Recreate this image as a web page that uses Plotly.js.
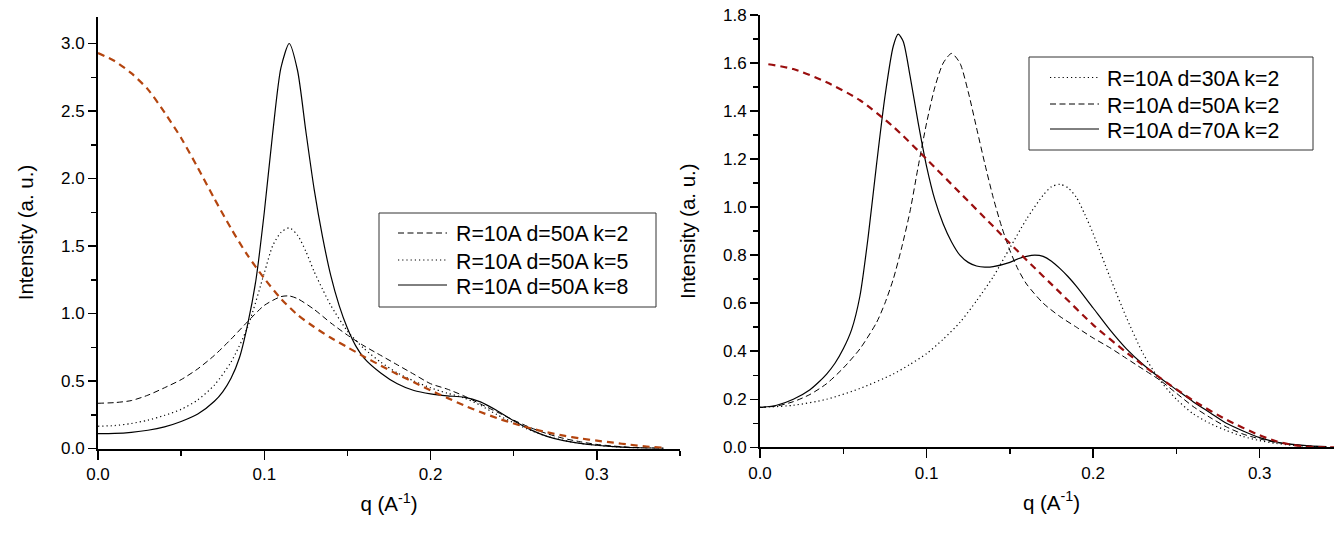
<!DOCTYPE html>
<html>
<head>
<meta charset="utf-8">
<script src="https://cdn.plot.ly/plotly-3.0.1.min.js"></script>
<style>
html, body { margin: 0; padding: 0; overflow: hidden; background: #fff; }
#chart { width: 1343px; height: 533px; }
</style>
</head>
<body>
<div id="chart"></div>
<script>
// ---------- Left panel: R=10A d=50A, varying k ----------
const qL_k2 = [0,0.01,0.02,0.03,0.04,0.05,0.06,0.07,0.08,0.09,0.10,0.11,0.115,0.12,0.13,0.14,0.15,0.16,0.17,0.18,0.19,0.20,0.21,0.22,0.23,0.24,0.25,0.26,0.27,0.28,0.29,0.30,0.31,0.32,0.33,0.34];
const IL_k2 = [0.335,0.34,0.355,0.395,0.45,0.51,0.59,0.69,0.81,0.94,1.06,1.125,1.13,1.11,1.03,0.93,0.84,0.76,0.69,0.62,0.55,0.48,0.44,0.39,0.33,0.27,0.21,0.155,0.11,0.075,0.05,0.03,0.018,0.009,0.004,0.001];

const qL_k5 = [0,0.01,0.02,0.03,0.04,0.05,0.06,0.07,0.08,0.09,0.10,0.105,0.11,0.115,0.12,0.125,0.13,0.135,0.14,0.15,0.16,0.17,0.18,0.19,0.20,0.21,0.22,0.23,0.24,0.25,0.26,0.27,0.28,0.29,0.30,0.31,0.32,0.33,0.34];
const IL_k5 = [0.165,0.17,0.185,0.21,0.245,0.29,0.36,0.47,0.64,0.90,1.30,1.50,1.60,1.635,1.58,1.46,1.31,1.18,1.06,0.87,0.74,0.64,0.56,0.50,0.45,0.41,0.375,0.32,0.25,0.19,0.135,0.09,0.06,0.038,0.024,0.014,0.007,0.003,0.001];

const qL_k8 = [0,0.01,0.02,0.03,0.04,0.05,0.06,0.07,0.075,0.08,0.085,0.09,0.095,0.10,0.105,0.11,0.115,0.12,0.125,0.13,0.135,0.14,0.145,0.15,0.155,0.16,0.17,0.18,0.19,0.20,0.21,0.22,0.23,0.24,0.25,0.26,0.27,0.28,0.29,0.30,0.31,0.32,0.33,0.34];
const IL_k8 = [0.11,0.112,0.12,0.135,0.16,0.20,0.255,0.35,0.42,0.52,0.67,0.92,1.25,1.75,2.33,2.82,3.00,2.80,2.35,1.92,1.57,1.28,1.06,0.89,0.76,0.67,0.56,0.48,0.43,0.405,0.39,0.38,0.345,0.28,0.205,0.14,0.09,0.058,0.038,0.024,0.014,0.007,0.003,0.001];

const qL_ff = [0,0.01,0.02,0.03,0.04,0.05,0.06,0.07,0.08,0.09,0.10,0.11,0.12,0.13,0.14,0.15,0.16,0.17,0.18,0.19,0.20,0.21,0.22,0.23,0.24,0.25,0.26,0.27,0.28,0.29,0.30,0.31,0.32,0.33,0.34];
const IL_ff = [2.93,2.87,2.78,2.66,2.49,2.30,2.08,1.85,1.63,1.43,1.26,1.11,0.99,0.90,0.82,0.75,0.68,0.615,0.55,0.49,0.43,0.375,0.32,0.27,0.225,0.185,0.15,0.12,0.095,0.075,0.058,0.043,0.028,0.015,0.005];

// ---------- Right panel: R=10A k=2, varying d ----------
const qR_d30 = [0,0.02,0.04,0.06,0.08,0.09,0.10,0.11,0.12,0.13,0.14,0.15,0.16,0.17,0.175,0.18,0.185,0.19,0.195,0.20,0.21,0.22,0.23,0.24,0.25,0.26,0.27,0.28,0.29,0.30,0.31,0.32,0.33,0.34];
const IR_d30 = [0.166,0.175,0.20,0.245,0.305,0.345,0.39,0.45,0.52,0.61,0.71,0.83,0.95,1.05,1.085,1.095,1.08,1.04,0.97,0.89,0.71,0.54,0.39,0.28,0.20,0.14,0.10,0.07,0.045,0.028,0.016,0.008,0.004,0.002];

const qR_d50 = [0,0.01,0.02,0.03,0.04,0.05,0.06,0.07,0.075,0.08,0.085,0.09,0.095,0.10,0.105,0.11,0.115,0.12,0.125,0.13,0.135,0.14,0.145,0.15,0.155,0.16,0.17,0.18,0.19,0.20,0.21,0.22,0.23,0.24,0.25,0.26,0.27,0.28,0.29,0.30,0.31,0.32,0.33,0.34];
const IR_d50 = [0.166,0.172,0.19,0.22,0.265,0.33,0.41,0.52,0.60,0.70,0.83,0.98,1.17,1.35,1.50,1.60,1.64,1.60,1.48,1.33,1.18,1.04,0.92,0.82,0.74,0.68,0.60,0.545,0.50,0.455,0.415,0.37,0.325,0.28,0.225,0.17,0.125,0.085,0.055,0.035,0.02,0.011,0.005,0.002];

const qR_d70 = [0,0.01,0.02,0.03,0.035,0.04,0.045,0.05,0.055,0.06,0.065,0.07,0.075,0.08,0.083,0.086,0.09,0.095,0.10,0.105,0.11,0.115,0.12,0.125,0.13,0.135,0.14,0.15,0.155,0.16,0.165,0.17,0.175,0.18,0.185,0.19,0.20,0.21,0.22,0.23,0.24,0.25,0.26,0.27,0.28,0.29,0.30,0.31,0.32,0.33,0.34];
const IR_d70 = [0.166,0.175,0.20,0.24,0.27,0.305,0.35,0.41,0.49,0.63,0.88,1.18,1.46,1.67,1.72,1.69,1.55,1.35,1.17,1.03,0.93,0.855,0.80,0.77,0.755,0.75,0.752,0.77,0.785,0.795,0.80,0.795,0.775,0.745,0.71,0.67,0.58,0.49,0.41,0.345,0.29,0.24,0.19,0.145,0.10,0.068,0.04,0.022,0.012,0.006,0.003];

const qR_ff = [0.005,0.02,0.04,0.06,0.08,0.10,0.12,0.14,0.16,0.18,0.20,0.22,0.24,0.26,0.28,0.30,0.31,0.32,0.33,0.34,0.345];
const IR_ff = [1.595,1.575,1.52,1.445,1.335,1.20,1.06,0.92,0.78,0.645,0.51,0.395,0.29,0.195,0.115,0.05,0.025,0.01,0.002,0.0,0.0];

const namesL = ['R=10A d=50A k=2', 'R=10A d=50A k=5', 'R=10A d=50A k=8'];
const namesR = ['R=10A d=30A k=2', 'R=10A d=50A k=2', 'R=10A d=70A k=2'];

const FONT = 'Liberation Sans, Arial, sans-serif';
const DASH = '6px,3.5px';
const DOT = '1.2px,3px';
const BROWN_DASH = '7px,5px';
const STYLE_L = [DASH, DOT, 'solid'];
const STYLE_R = [DOT, DASH, 'solid'];

function line(x, y, xa, ya, name, dash, color, width) {
  return {
    type: 'scatter', mode: 'lines', x: x, y: y, xaxis: xa, yaxis: ya,
    name: name, showlegend: false,
    line: { color: color, width: width, dash: dash, shape: 'spline', smoothing: 0.7 },
    hoverinfo: 'skip'
  };
}

const traces = [
  line(qL_k2, IL_k2, 'x', 'y', namesL[0], STYLE_L[0], '#000', 1),
  line(qL_k5, IL_k5, 'x', 'y', namesL[1], STYLE_L[1], '#000', 1.2),
  line(qL_k8, IL_k8, 'x', 'y', namesL[2], STYLE_L[2], '#000', 1.2),
  line(qL_ff, IL_ff, 'x', 'y', 'form factor', BROWN_DASH, '#B4450F', 2.2),
  line(qR_d30, IR_d30, 'x2', 'y2', namesR[0], STYLE_R[0], '#000', 1.2),
  line(qR_d50, IR_d50, 'x2', 'y2', namesR[1], STYLE_R[1], '#000', 1),
  line(qR_d70, IR_d70, 'x2', 'y2', namesR[2], STYLE_R[2], '#000', 1.2),
  line(qR_ff, IR_ff, 'x2', 'y2', 'form factor', BROWN_DASH, '#9A0E0E', 2.2)
];

const W = 1343, H = 533;
const px = v => v / W;
const py = v => 1 - v / H;
const tickFont = { family: FONT, size: 17, color: '#000' };
const titleFont = { family: FONT, size: 20.5, color: '#000' };

function xaxis(domain, anchor) {
  return {
    domain: domain, anchor: anchor, range: [0, 0.35], dtick: 0.1, tick0: 0,
    tickformat: '.1f', ticks: 'outside', ticklen: 9, tickwidth: 1.5, tickcolor: '#000',
    minor: { dtick: 0.05, ticks: 'outside', ticklen: 5, tickwidth: 1.5, tickcolor: '#000', showgrid: false },
    showline: true, linecolor: '#000', linewidth: 2, showgrid: false, zeroline: false,
    tickfont: tickFont,
    title: { text: 'q (A<sup>-1</sup>)', font: titleFont, standoff: 14 },
    automargin: false, fixedrange: true
  };
}
function yaxis(domain, anchor, range, dtick, minorD) {
  return {
    domain: domain, anchor: anchor, range: range, dtick: dtick, tick0: 0,
    tickformat: '.1f', ticks: 'outside', ticklen: 8, tickwidth: 1.5, tickcolor: '#000',
    minor: { dtick: minorD, ticks: 'outside', ticklen: 5, tickwidth: 1.5, tickcolor: '#000', showgrid: false },
    showline: true, linecolor: '#000', linewidth: 2, showgrid: false, zeroline: false,
    tickfont: tickFont,
    title: { text: 'Intensity (a. u.)', font: titleFont, standoff: 22 },
    automargin: false, fixedrange: true
  };
}

// Legend boxes (drawn as a frame, a key line and a text per entry)
const legends = [
  { box: [379, 213, 656, 307], key: [398, 447], textX: 454, rows: [233, 260, 285], names: namesL, styles: STYLE_L },
  { box: [1029, 57, 1313, 150], key: [1050, 1099], textX: 1105, rows: [77.5, 104, 129], names: namesR, styles: STYLE_R }
];
const shapes = [];
const annotations = [];
legends.forEach(L => {
  shapes.push({ type: 'rect', xref: 'paper', yref: 'paper',
    x0: px(L.box[0]), x1: px(L.box[2]), y0: py(L.box[1]), y1: py(L.box[3]),
    line: { color: '#333', width: 1 }, fillcolor: 'rgba(255,255,255,0)' });
  L.rows.forEach((r, i) => {
    shapes.push({ type: 'line', xref: 'paper', yref: 'paper',
      x0: px(L.key[0]), x1: px(L.key[1]), y0: py(r), y1: py(r),
      line: { color: '#000', width: L.styles[i] === DOT ? 1.2 : 1, dash: L.styles[i] } });
    annotations.push({ xref: 'paper', yref: 'paper', x: px(L.textX), y: py(r + 1.5),
      xanchor: 'left', yanchor: 'middle', showarrow: false, text: L.names[i],
      font: { family: FONT, size: 21.3, color: '#000' } });
  });
});

const layout = {
  width: W, height: H,
  margin: { l: 0, r: 0, t: 0, b: 0, pad: 0 },
  paper_bgcolor: '#fff', plot_bgcolor: '#fff',
  showlegend: false,
  xaxis: xaxis([px(98), px(680)], 'y'),
  yaxis: yaxis([py(448.5), py(16.5)], 'x', [0, 3.2], 0.5, 0.25),
  xaxis2: xaxis([px(760), 1], 'y2'),
  yaxis2: yaxis([py(447.3), py(15)], 'x2', [0, 1.8], 0.2, 0.1),
  shapes: shapes,
  annotations: annotations
};

Plotly.newPlot('chart', traces, layout, { staticPlot: true, displayModeBar: false });
</script>
</body>
</html>
